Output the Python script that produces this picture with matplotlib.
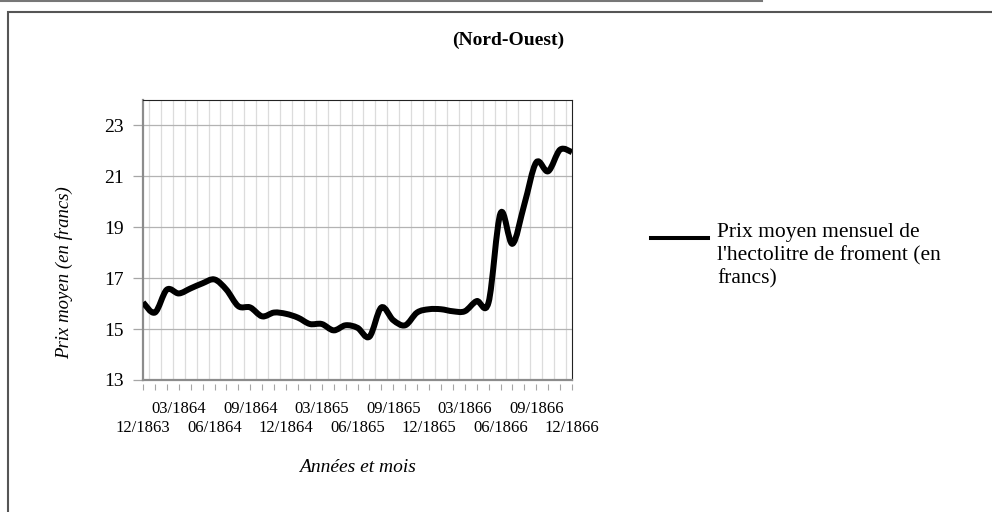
import matplotlib.pyplot as plt
from matplotlib.path import Path
from matplotlib.patches import PathPatch, Rectangle
from matplotlib.lines import Line2D

plt.rcParams['font.family'] = ["Liberation Serif", "DejaVu Serif"]

# mois de décembre 1863 à décembre 1866
mois = ["12/1863"] + ["{:02d}/{}".format(m, a) for a in (1864, 1865, 1866) for m in range(1, 13)]

# prix moyen mensuel de l'hectolitre de froment, Nord-Ouest (francs)
prix = [16.05, 15.65, 16.55, 16.4, 16.6, 16.8, 16.95, 16.55, 15.9, 15.85,
        15.5, 15.65, 15.6, 15.45, 15.2, 15.2, 14.95, 15.15, 15.05, 14.7,
        15.85, 15.35, 15.15, 15.65, 15.78, 15.78, 15.7, 15.7, 16.1, 16.05,
        19.55, 18.35, 19.9, 21.55, 21.2, 22.05, 21.95]

y_ticks = [13, 15, 17, 19, 21, 23]
titre = "(Nord-Ouest)"
legende = "Prix moyen mensuel de\nl'hectolitre de froment (en\nfrancs)"


def courbe_lissee(xs, ys):
    # courbe de Bézier passant par chaque point (lissage type tableur)
    n = len(xs)
    verts = [(xs[0], ys[0])]
    codes = [Path.MOVETO]
    for i in range(n - 1):
        a = max(i - 1, 0)
        b = min(i + 2, n - 1)
        c1 = (xs[i] + (xs[i + 1] - xs[a]) / 6, ys[i] + (ys[i + 1] - ys[a]) / 6)
        c2 = (xs[i + 1] - (xs[b] - xs[i]) / 6, ys[i + 1] - (ys[b] - ys[i]) / 6)
        verts += [c1, c2, (xs[i + 1], ys[i + 1])]
        codes += [Path.CURVE4] * 3
    return Path(verts, codes)


fig = plt.figure(figsize=(9.92, 5.12), dpi=100, facecolor='white')
ax = fig.add_axes([143 / 992, 1 - 380 / 512, 429 / 992, 280 / 512])

x = list(range(len(prix)))
ax.add_patch(PathPatch(courbe_lissee(x, prix), facecolor='none', edgecolor='black',
                       lw=4.3, joinstyle='round', capstyle='butt', zorder=3))

ax.set_xlim(0, len(prix) - 1)
ax.set_ylim(13, 24)

# grille
ax.set_yticks(y_ticks)
ax.set_xticks([i + 0.5 for i in x[:-1]], minor=True)
ax.grid(True, axis='y', which='major', color='#b3b3b3', lw=0.9)
ax.grid(True, axis='x', which='minor', color='#dcdcdc', lw=0.9)
ax.tick_params(axis='x', which='minor', length=0)

# dates tous les 3 mois, sur deux rangs
haut = [i for i in x if i % 6 == 3]
bas = [i for i in x if i % 6 == 0]
ax.set_xticks(x)
ax.set_xticklabels([mois[i] if i in haut else "" for i in x])
ax.tick_params(axis='x', which='major', length=4, color='#a6a6a6', width=0.8,
               pad=8, labelsize=12)
ax.tick_params(axis='y', length=7, color='#a6a6a6', width=0.9, pad=7, labelsize=14)

rang2 = ax.secondary_xaxis('bottom')
rang2.set_xticks(bas)
rang2.set_xticklabels([mois[i] for i in bas])
rang2.tick_params(length=0, pad=29, labelsize=12)
rang2.spines['bottom'].set_visible(False)

ax.spines['bottom'].set_position(('outward', 3))
ax.spines['bottom'].set_visible(False)
ax.axhline(13, color='#8c8c8c', lw=1.6, clip_on=False, zorder=4)
ax.spines['left'].set_color('#8c8c8c')
ax.spines['left'].set_linewidth(1.6)
for s in ('top', 'right'):
    ax.spines[s].set_color('#222222')
    ax.spines[s].set_linewidth(0.8)

# textes
fig.text(508 / 992, 1 - 40 / 512, titre, fontsize=14, fontweight='bold',
         ha='center', va='center')
fig.text(64 / 992, 1 - 273 / 512, "Prix moyen (en francs)", fontsize=13.5,
         style='italic', rotation=90, ha='center', va='center')
fig.text(358 / 992, 1 - 468 / 512, "Années et mois", fontsize=14,
         style='italic', ha='center', va='center')

# légende
fig.add_artist(Line2D([651 / 992, 708 / 992], [1 - 238 / 512] * 2, color='black', lw=2.9))
fig.text(717 / 992, 1 - 223 / 512, legende, fontsize=15.5, linespacing=1.25,
         ha='left', va='top')

# cadres
fig.add_artist(Rectangle((8 / 992, -0.1), 1.2, 1.1 - 12 / 512, transform=fig.transFigure,
                         fill=False, edgecolor='#555555', lw=1.5))
fig.add_artist(Line2D([0, 762 / 992], [1 - 1 / 512] * 2, color='#777777', lw=1.5))

fig.savefig("out.png", dpi=100)
